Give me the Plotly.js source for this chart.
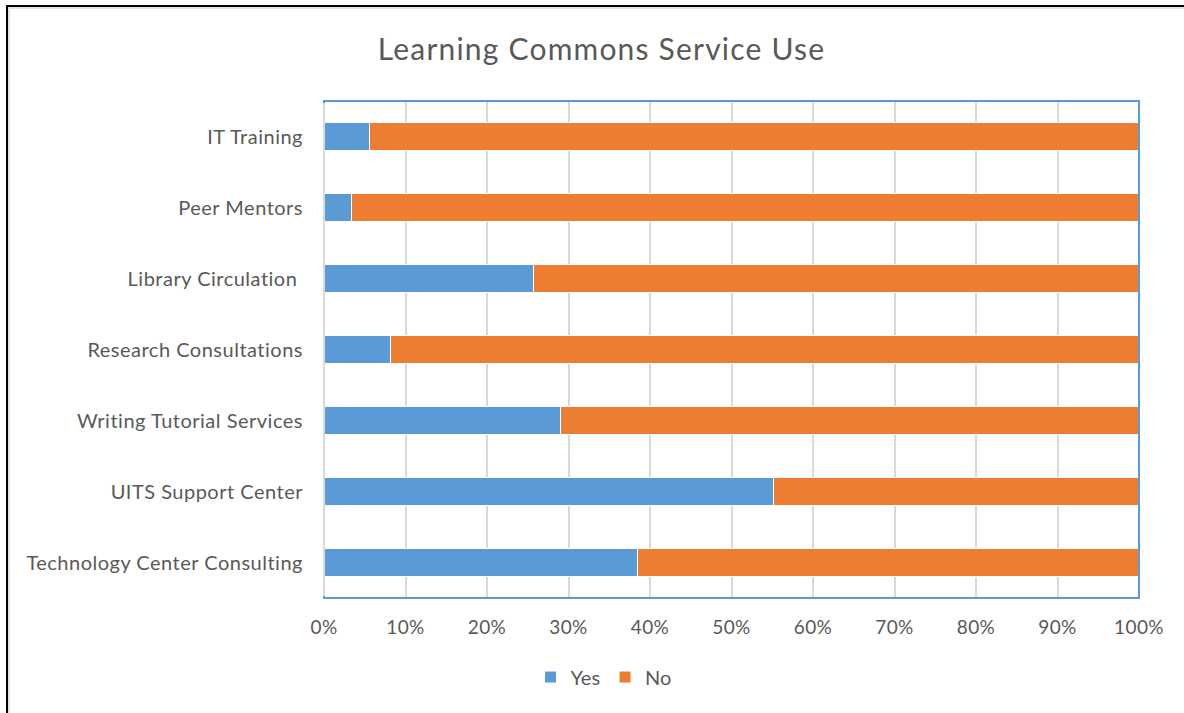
<!DOCTYPE html>
<html>
<head>
<meta charset="utf-8">
<script src="https://cdn.plot.ly/plotly-3.0.1.min.js"></script>
<style>
  html, body { margin: 0; padding: 0; background: #fff; }
  #frame { position: absolute; left: 6px; top: 5px; width: 1200px; height: 720px;
           border-top: 2px solid #000; border-left: 2px solid #000; }
  #inner { position: absolute; left: 8px; top: 7px; width: 1200px; height: 720px;
           border-top: 2px solid #e4e4e4; border-left: 2px solid #e4e4e4; }
  #chart { position: absolute; left: 0; top: 0; width: 1184px; height: 713px; }
  #chart .gtitle { letter-spacing: 1.2px; }
  #chart .ytick text { letter-spacing: 0.5px; }
  #chart .xtick text { letter-spacing: 0.4px; }
</style>
</head>
<body>
<div id="chart"></div>
<div id="frame"></div>
<div id="inner"></div>
<script>
const categories = [
  "Technology Center Consulting",
  "UITS Support Center",
  "Writing Tutorial Services",
  "Research Consultations",
  "Library Circulation ",
  "Peer Mentors",
  "IT Training"
];
const yesValues = [38.5, 55.1, 29.0, 8.1, 25.7, 3.4, 5.6];
const noValues  = [61.5, 44.9, 71.0, 91.9, 74.3, 96.6, 94.4];
const xTickVals = [0, 10, 20, 30, 40, 50, 60, 70, 80, 90, 100];
const xTickText = ["0%", "10%", "20%", "30%", "40%", "50%", "60%", "70%", "80%", "90%", "100%"];

const FONT = "Lato, Carlito, Calibri, sans-serif";
const TXT = "#595959";

const traces = [
  { type: "bar", orientation: "h", name: "Yes", y: categories, x: yesValues,
    marker: { color: "#5b9bd5", line: { color: "#ffffff", width: 1 } }, width: 0.4,
    hoverinfo: "x+y" },
  { type: "bar", orientation: "h", name: "No", y: categories, x: noValues,
    marker: { color: "#ed7d31", line: { color: "#ffffff", width: 1 } }, width: 0.4,
    hoverinfo: "x+y" }
];

const layout = {
  width: 1184, height: 713,
  margin: { l: 324, r: 45, t: 101, b: 115 },
  paper_bgcolor: "rgba(0,0,0,0)", plot_bgcolor: "#ffffff",
  barmode: "stack",
  font: { family: FONT, color: TXT, size: 20 },
  title: { text: "Learning Commons Service Use", x: 0.508, xref: "container",
           y: 0.930, yref: "container", yanchor: "middle", xanchor: "center",
           font: { family: FONT, size: 30, color: TXT } },
  xaxis: { range: [0, 100], tickvals: xTickVals, ticktext: xTickText,
           showgrid: true, gridcolor: "#d9d9d9", gridwidth: 2, zeroline: false,
           ticks: "outside", ticklen: 12, tickcolor: "rgba(0,0,0,0)",
           tickfont: { family: FONT, size: 19, color: TXT }, fixedrange: true },
  yaxis: { type: "category", categoryorder: "array", categoryarray: categories,
           showgrid: false, zeroline: false,
           ticks: "outside", ticklen: 16, tickcolor: "rgba(0,0,0,0)",
           tickfont: { family: FONT, size: 20, color: TXT }, fixedrange: true },
  showlegend: true,
  legend: { orientation: "h", x: 0.343, xanchor: "center", y: -0.159, yanchor: "middle",
            font: { family: FONT, size: 20, color: TXT }, traceorder: "normal",
            itemwidth: 30, bgcolor: "rgba(0,0,0,0)" },
  shapes: [
    { type: "rect", xref: "paper", yref: "paper", x0: 0, x1: 1, y0: 0, y1: 1,
      line: { color: "#5b9bd5", width: 2 }, layer: "above" },
    { type: "line", xref: "paper", yref: "paper", x0: 0, x1: 0, y0: 0.004, y1: 0.996,
      line: { color: "#d9d9d9", width: 2 }, layer: "above" }
  ]
};

Plotly.newPlot("chart", traces, layout, { displayModeBar: false, staticPlot: true });
</script>
</body>
</html>
